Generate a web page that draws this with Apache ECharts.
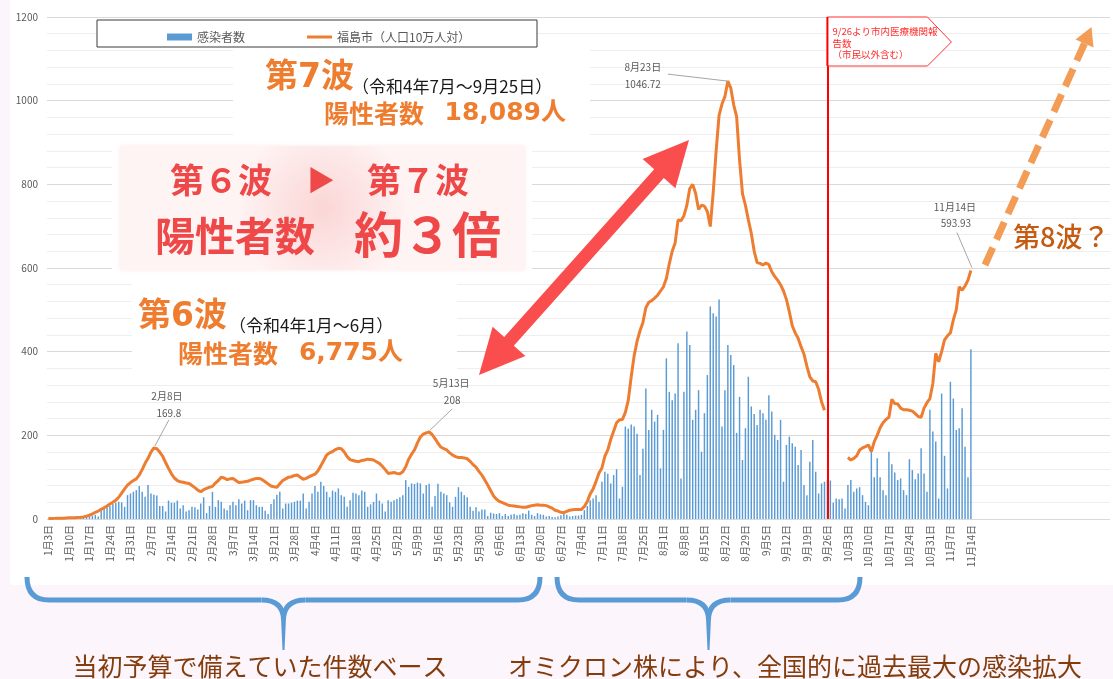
<!DOCTYPE html>
<html><head><meta charset="utf-8">
<script src="https://cdn.jsdelivr.net/npm/echarts@6/dist/echarts.min.js"></script>
<style>html,body{margin:0;padding:0;background:#fcf5fb;}#c{width:1113px;height:679px;}</style>
</head><body><div id="c"></div>
<script>
// ---------- data ----------
// categories: every day from 1月3日 to 12月31日 (data ends 11月14日)
const dayLabels = (function () {
  const out = []; const d = new Date(2022, 0, 3);
  for (let i = 0; i < 363; i++) { out.push((d.getMonth() + 1) + '月' + d.getDate() + '日'); d.setDate(d.getDate() + 1); }
  return out;
})();
const lastLabelIndex = 315;

// 感染者数 (daily cases), 1月3日 .. 11月14日
const cases = [
  1,1,2,2,3,2,1,
  2,3,4,3,2,5,6,
  7,8,10,6,21,25,29,
  31,36,39,41,40,29,57,
  61,65,69,79,65,53,81,
  61,58,56,31,31,18,44,
  39,39,44,25,33,18,21,
  29,28,23,37,52,14,31,
  65,29,45,41,25,21,33,
  41,33,47,37,44,21,45,
  45,33,29,29,20,12,36,
  47,58,65,25,37,37,39,
  41,44,44,61,25,41,61,
  79,65,89,79,65,52,68,
  65,73,57,53,29,45,63,
  61,57,68,65,29,35,41,
  61,44,37,18,45,41,45,
  48,52,57,93,77,85,84,
  87,85,61,81,84,29,55,
  84,65,61,57,40,29,53,
  76,65,57,52,29,20,28,
  18,23,23,7,15,13,12,
  14,7,12,7,10,12,9,
  10,14,12,20,10,7,14,
  11,10,6,7,5,4,6,
  9,12,10,6,7,8,8,
  10,21,31,45,49,57,41,
  89,113,108,85,105,119,49,
  77,221,216,226,221,204,105,
  168,312,213,261,233,249,121,
  213,384,304,284,300,420,97,
  304,448,416,237,261,308,161,
  253,344,508,492,484,525,221,
  308,416,392,368,206,292,141,
  217,340,269,251,225,261,253,
  237,296,257,201,189,237,89,
  177,197,181,173,129,165,81,
  57,137,189,113,61,85,89,
  93,92,39,49,47,49,25,
  81,93,65,73,76,57,41,
  33,161,100,145,100,69,57,
  161,131,111,93,97,69,57,
  143,117,95,109,169,109,65,
  261,209,185,49,300,151,73,
  328,288,213,217,265,173,100,
  406
];

// 福島市（人口10万人対）
const per100k = [
  1,1,1.5,2,2,2,2.5,
  3,3,3,3.5,4,5,7,
  9,12,16,19,23,27,31,
  36,40,45,52,62,72,81,
  87,92,96,105,118,133,145,
  160,169.8,168,160,150,135,121,
  108,98,92,89,88,86,85,
  80,75,69,65,70,73,76,
  78,86,92,100,98,94,96,
  97,92,87,88,89,90,93,
  95,97,97,94,89,84,79,
  77,76,84,92,96,100,101,
  104,105,100,95,97,101,104,
  107,115,127,140,153,158,161,
  166,169,168,160,149,142,140,
  138,137,140,141,143,142,141,
  137,133,126,118,109,110,111,
  109,108,113,125,143,155,165,
  182,196,203,206,208,202,192,
  181,172,168,165,158,153,149,
  147,147,146,144,138,130,124,
  114,105,93,81,68,55,47,
  42,39,36,33,32,31,30,
  29,28,28,30,32,33,34,
  33,33,32,29,26,21,19,
  16,15,18,21,22,23,23,
  23,30,42,60,72,90,110,
  122,150,165,190,210,230,237,
  238,255,284,340,390,425,450,
  470,505,518,522,528,535,545,
  555,575,610,640,660,715,713,
  725,750,790,800,778,740,750,
  748,735,699,780,880,965,992,
  1010,1046.72,1030,990,962,858,778,
  750,715,683,640,613,611,607,
  612,608,591,580,571,560,545,
  525,495,462,445,432,412,394,
  365,340,330,328,310,280,260,
  null,null,null,null,null,null,null,
  147,141,145,151,165,170,173,
  177,161,185,200,218,230,238,
  243,286,276,275,265,261,261,
  260,258,252,245,243,265,278,
  288,324,396,376,400,428,438,
  445,476,500,555,547,557,571,
  593.93
];

const yTicks = { min: 0, max: 1200, step: 200 };
const seriesNames = ['感染者数', '福島市（人口10万人対）'];
const reportChangeDay = '9月26日';
const peakNotes = [
  { i: 36, date: '2月8日', val: '169.8' },
  { i: 130, date: '5月13日', val: '208' },
  { i: 232, date: '8月23日', val: '1046.72' },
  { i: 315, date: '11月14日', val: '593.93' }
];

// ---------- chart ----------
const FONT = "'Noto Sans CJK JP', 'Noto Sans', sans-serif";
const NUMFONT = "'DejaVu Sans', 'Noto Sans CJK JP', sans-serif";
const chart = echarts.init(document.getElementById('c'), null, { renderer: 'canvas' });

const option = {
  animation: false,
  backgroundColor: '#fcf5fb',
  textStyle: { fontFamily: FONT },
  grid: { left: 47, right: 3, top: 17, bottom: 160 },
  legend: {
    left: 162, top: 26, itemWidth: 25, itemHeight: 7, itemGap: 62,
    textStyle: { fontSize: 12, color: '#595959', fontFamily: FONT },
    data: [
      { name: seriesNames[0], icon: 'rect' },
      { name: seriesNames[1], icon: 'path://M0,0 L25,0 L25,3 L0,3 Z', itemStyle: { color: '#ED7D31' } }
    ]
  },
  xAxis: {
    type: 'category', data: dayLabels, boundaryGap: true,
    axisLine: { show: false }, axisTick: { show: false },
    axisLabel: {
      interval: function (idx) { return idx % 7 === 0 && idx <= lastLabelIndex; },
      rotate: 90, fontSize: 10, color: '#595959', margin: 6, fontFamily: FONT
    },
    splitLine: { show: false }
  },
  yAxis: {
    type: 'value', min: yTicks.min, max: yTicks.max, interval: yTicks.step,
    axisLine: { show: false }, axisTick: { show: false },
    axisLabel: { fontSize: 10, color: '#595959', margin: 9, fontFamily: FONT, formatter: function (v) { return String(v); } },
    splitLine: { lineStyle: { color: '#d9d9d9', width: 1 } },
    minorTick: { show: false, splitNumber: 5 },
    minorSplitLine: { show: true, lineStyle: { color: '#eeeeee', width: 1 } }
  },
  series: [
    {
      name: seriesNames[0], type: 'bar', data: cases, barWidth: '50%',
      itemStyle: { color: '#5B9BD5' },
      markLine: {
        silent: true, symbol: ['none', 'none'], label: { show: false },
        lineStyle: { color: '#ff0000', width: 2, type: 'solid' },
        data: [{ xAxis: reportChangeDay }]
      }
    },
    {
      name: seriesNames[1], type: 'line', data: per100k, symbol: 'none', showSymbol: false,
      connectNulls: false, z: 3,
      lineStyle: { color: '#ED7D31', width: 3 }, itemStyle: { color: '#ED7D31' }
    }
  ]
};
chart.setOption(option);

// ---------- annotations ----------
const px = (i, v) => chart.convertToPixel({ xAxisIndex: 0, yAxisIndex: 0 }, [i, v]);
const G = [];
let gid = 0;
function add(el) { el.id = 'g' + (gid++); G.push(el); }
function txt(x, y, text, size, color, opts) {
  opts = opts || {};
  add({
    type: 'text', x: x, y: y, z: opts.z || 20, silent: true,
    style: {
      text: text, fill: color, fontSize: size, fontFamily: opts.family || FONT,
      fontWeight: opts.weight || 'normal', align: opts.align || 'left', verticalAlign: 'middle'
    }
  });
}

// white chart area
add({ type: 'rect', z: -1, silent: true, shape: { x: 10, y: 0, width: 1103, height: 585 }, style: { fill: '#ffffff' } });
// legend box
add({ type: 'rect', z: 3, silent: true, shape: { x: 97, y: 20, width: 440, height: 27 }, style: { fill: '#ffffff', stroke: '#3a3a3a', lineWidth: 1 } });

// overlay text panels
add({ type: 'rect', z: 10, silent: true, shape: { x: 233, y: 50, width: 357, height: 92 }, style: { fill: '#ffffff' } });
add({ type: 'rect', z: 10, silent: true, shape: { x: 112, y: 140, width: 420, height: 138 }, style: { fill: '#ffffff' } });
add({
  type: 'rect', z: 11, silent: true, shape: { x: 120, y: 146, width: 405, height: 124 },
  style: {
    fill: new echarts.graphic.RadialGradient(0.5, 0.5, 0.7, [
      { offset: 0, color: '#fbd6d6' }, { offset: 0.6, color: '#fde7e7' }, { offset: 1, color: '#fff4f4' }
    ]),
    shadowBlur: 4, shadowColor: '#fdeaea'
  }
});
add({ type: 'rect', z: 10, silent: true, shape: { x: 132, y: 280, width: 325, height: 93 }, style: { fill: '#ffffff' } });

const ORANGE = '#EE7D30', RED = '#EF4848', DARK = '#1a1a1a';
txt(265, 78, '第7波', 33, ORANGE, { weight: 'bold', family: NUMFONT });
txt(352, 87, '（令和4年7月～9月25日）', 17, DARK);
txt(324, 113, '陽性者数', 25, ORANGE, { weight: 'bold' });
txt(566, 113, '18,089人', 25, ORANGE, { weight: 'bold', align: 'right', family: NUMFONT });

txt(170, 180, '第６波', 34, RED, { weight: 'bold' });
txt(321, 180, '▶', 28, RED, { align: 'center' });
txt(367, 180, '第７波', 34, RED, { weight: 'bold' });
txt(155, 236, '陽性者数', 40, RED, { weight: 'bold' });
txt(354, 234, '約３倍', 49, RED, { weight: 'bold' });

txt(138, 317, '第6波', 33, ORANGE, { weight: 'bold', family: NUMFONT });
txt(229, 326, '（令和4年1月～6月）', 17, DARK);
txt(178, 353, '陽性者数', 25, ORANGE, { weight: 'bold' });
txt(403, 353, '6,775人', 25, ORANGE, { weight: 'bold', align: 'right', family: NUMFONT });

// red double arrow
add({
  type: 'polygon', z: 30, silent: true,
  shape: { points: [[689, 140], [642.6, 159], [654.2, 169.3], [504.2, 337.1], [492.6, 326.7], [479, 375], [525.4, 356.1], [513.8, 345.7], [663.8, 177.9], [675.4, 188.3]] },
  style: { fill: '#fa4d4d' }
});

// orange dashed arrow + 第8波？
add({ type: 'line', z: 30, silent: true, shape: { x1: 985, y1: 265, x2: 1084.5, y2: 43.5 }, style: { stroke: '#f39c55', lineWidth: 7, lineDash: [19, 9] } });
add({ type: 'polygon', z: 30, silent: true, shape: { points: [[1091.5, 27], [1093.5, 47.5], [1075.5, 39.5]] }, style: { fill: '#f39c55' } });
txt(1013, 237, '第8波？', 27, '#C55A11', { weight: 500 });

// red callout at report change day
const rc = px(dayLabels.indexOf(reportChangeDay), yTicks.max);
const rx = rc[0], ry = rc[1];
add({
  type: 'polygon', z: 25, silent: true,
  shape: { points: [[rx, ry], [rx + 100, ry], [rx + 124, ry + 25], [rx + 100, ry + 49], [rx, ry + 49]] },
  style: { fill: '#ffffff', stroke: '#ff3030', lineWidth: 1 }
});
add({ type: 'line', z: 26, silent: true, shape: { x1: rx, y1: ry, x2: rx, y2: ry + 49 }, style: { stroke: '#ff0000', lineWidth: 2 } });
txt(rx + 5, ry + 14, '9/26より市内医療機関報', 9.5, '#ff2a2a', { z: 27 });
txt(rx + 5, ry + 26, '告数', 9.5, '#ff2a2a', { z: 27 });
txt(rx + 5, ry + 37, '（市民以外含む）', 9.5, '#ff2a2a', { z: 27 });

// peak value callouts with leader lines
const noteLayout = [
  [13, -52, 15, -35, 15, -28, 1, -2],
  [22, -49, 23, -32, 23, -23, 1, -2],
  [-85, -14, -85, 3, -60, -7, 0, 0],
  [-16, -63, -15, -47, -14, -38, 1, -3]
];
peakNotes.forEach(function (n, k) {
  const p = px(n.i, per100k[n.i]);
  const L = noteLayout[k];
  add({ type: 'line', z: 20, silent: true, shape: { x1: p[0] + L[4], y1: p[1] + L[5], x2: p[0] + L[6], y2: p[1] + L[7] }, style: { stroke: '#a6a6a6', lineWidth: 1 } });
  txt(p[0] + L[0], p[1] + L[1], n.date, 10, '#595959', { align: 'center', z: 21 });
  txt(p[0] + L[2], p[1] + L[3], n.val, 10, '#595959', { align: 'center', z: 21 });
});

// braces below the axis
function brace(x1, x2, yTop, yMid, yTip) {
  const xc = (x1 + x2) / 2, r = 22;
  const st = { stroke: '#5B9BD5', lineWidth: 5, fill: 'none' };
  add({ type: 'bezierCurve', z: 5, silent: true, shape: { x1: x1, y1: yTop, cpx1: x1, cpy1: yMid, x2: x1 + r, y2: yMid }, style: st });
  add({ type: 'line', z: 5, silent: true, shape: { x1: x1 + r, y1: yMid, x2: xc - r, y2: yMid }, style: st });
  add({ type: 'bezierCurve', z: 5, silent: true, shape: { x1: xc - r, y1: yMid, cpx1: xc, cpy1: yMid, x2: xc, y2: yMid + 20 }, style: st });
  add({ type: 'bezierCurve', z: 5, silent: true, shape: { x1: xc + r, y1: yMid, cpx1: xc, cpy1: yMid, x2: xc, y2: yMid + 20 }, style: st });
  add({ type: 'polygon', z: 5, silent: true, shape: { points: [[xc - 2.5, yMid + 18], [xc + 2.5, yMid + 18], [xc + 1, yTip], [xc - 1, yTip]] }, style: { fill: '#5B9BD5' } });
  add({ type: 'line', z: 5, silent: true, shape: { x1: xc + r, y1: yMid, x2: x2 - r, y2: yMid }, style: st });
  add({ type: 'bezierCurve', z: 5, silent: true, shape: { x1: x2 - r, y1: yMid, cpx1: x2, cpy1: yMid, x2: x2, y2: yTop }, style: st });
}
brace(27, 540, 577, 600, 650);
brace(557, 860, 577, 600, 650);

txt(260, 666, '当初予算で備えていた件数ベース', 25, '#843C0C', { align: 'center' });
txt(795, 666, 'オミクロン株により、全国的に過去最大の感染拡大', 25, '#843C0C', { align: 'center' });

chart.setOption({ graphic: { elements: G } });
</script>
</body></html>
